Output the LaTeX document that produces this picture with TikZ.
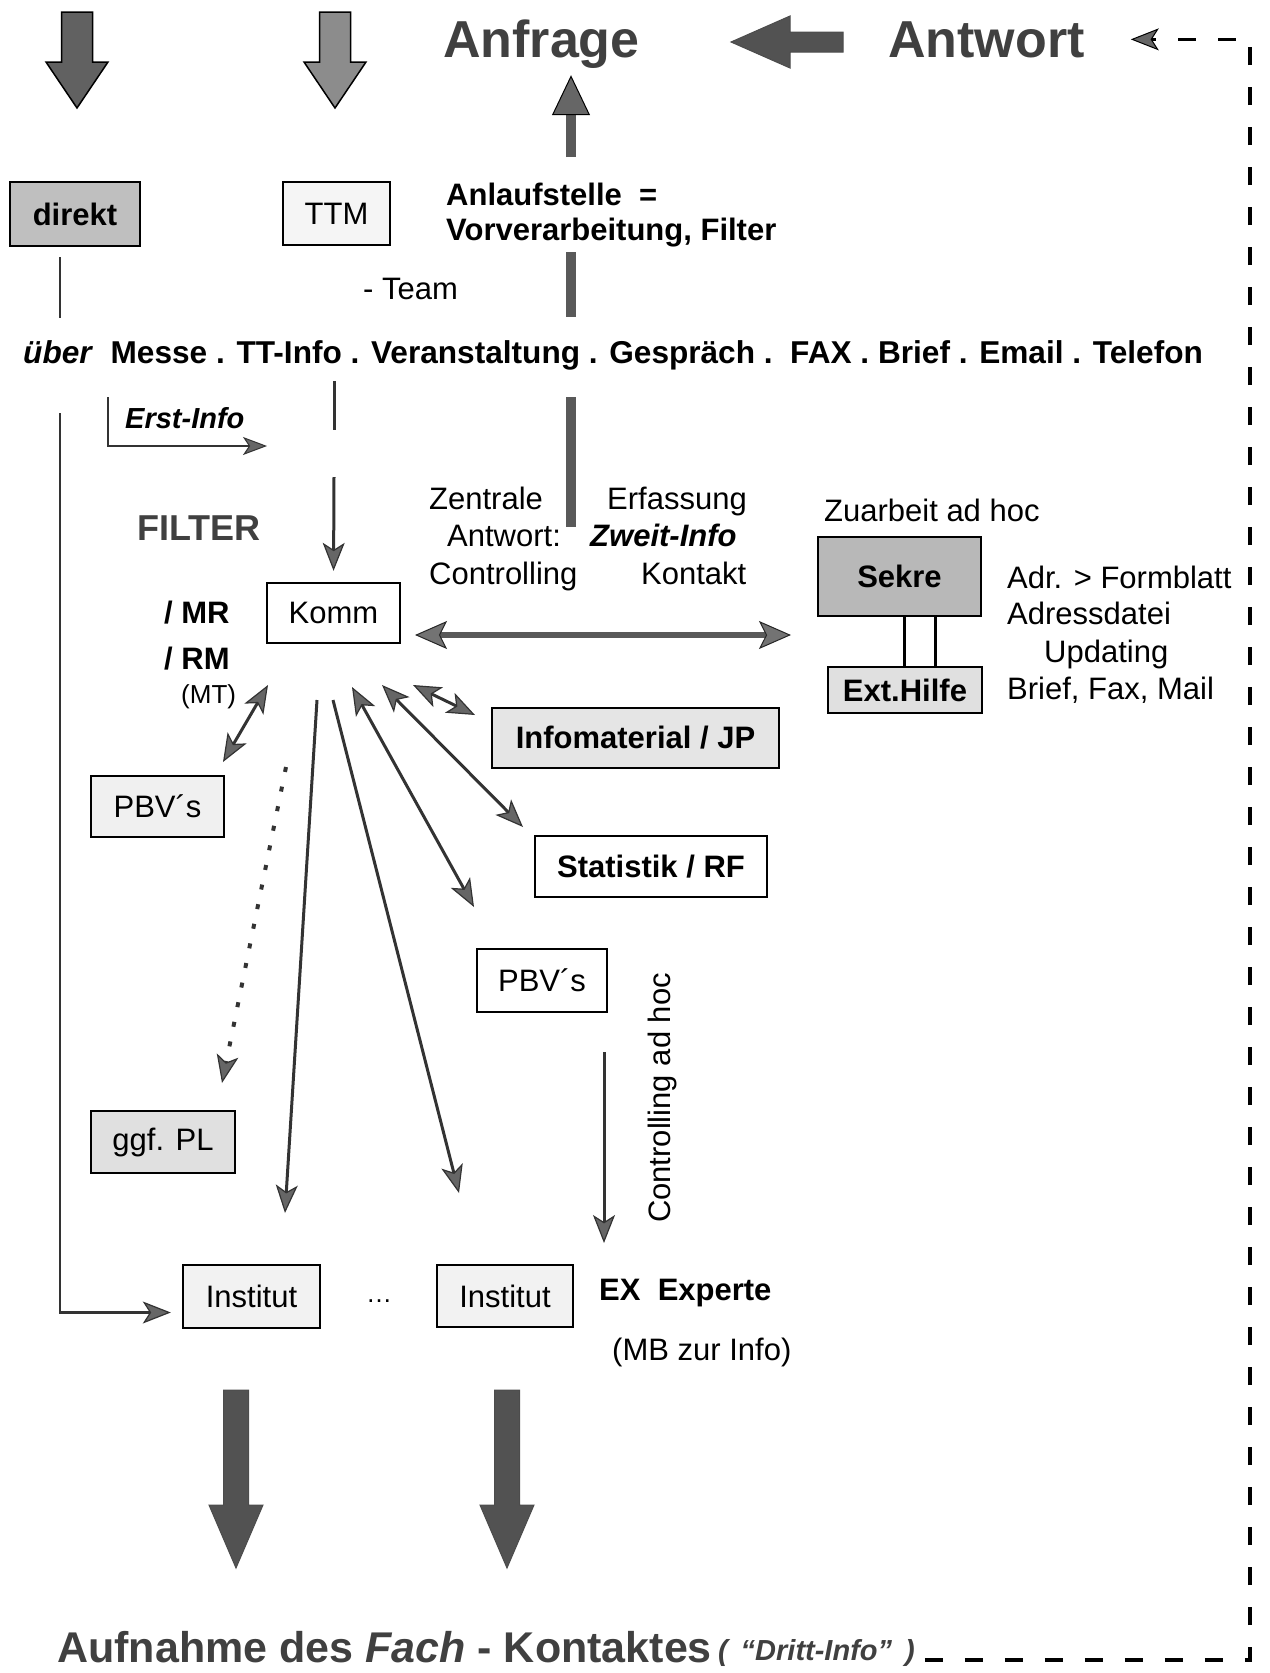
\documentclass[tikz,border=0pt]{standalone}
\usepackage{fontspec}
\setmainfont{Liberation Sans}
\usetikzlibrary{arrows.meta}

\begin{document}
\begin{tikzpicture}[x=1pt, y=-1pt,
    >={Stealth[length=28pt, width=22pt, inset=7pt, fill=black!60, line width=1.2pt]},
    txt/.style={inner sep=0pt, anchor=base west, font=\fontsize{31}{37}\selectfont},
    btxt/.style={txt, font=\fontsize{31}{37}\selectfont\bfseries},
    box/.style={draw, line width=2.4pt, inner sep=0pt, font=\fontsize{31}{37}\selectfont},
    bbox/.style={box, font=\fontsize{31}{37}\selectfont\bfseries},
    link/.style={line width=3pt, draw=black!80},
    bar/.style={line width=10pt, draw=black!65},
    blockarr/.style={draw=black, line width=1.5pt, fill=black!62},
    bigarr/.style={draw=black!70, line width=1pt, fill=black!68}]
      \useasboundingbox (0,0) rectangle (1269,1673);

      % Anfrage / Antwort
      \node (anfrage) at (443,57) [btxt, font=\fontsize{52}{60}\selectfont\bfseries, text=black!75] {Anfrage};
      \node (antwort) at (888,57) [btxt, font=\fontsize{52}{60}\selectfont\bfseries, text=black!75] {Antwort};
      \coordinate (ansA) at (843,42);
      \draw[bigarr] (ansA) ++(0,-10) -- ++(-53,0) -- ++(0,-16) -- ++(-59,26) -- ++(59,26) -- ++(0,-16) -- ++(53,0) -- cycle;

      % Eingang
      \coordinate (inA) at (77,12);
      \coordinate (inB) at (335,12);
      \draw[blockarr] (inA) ++(-15.5,0) -- ++(31,0) -- ++(0,50) -- ++(15.5,0) -- ++(-31,46) -- ++(-31,-46) -- ++(15.5,0) -- cycle;
      \draw[blockarr, fill=black!45] (inB) ++(-15.5,0) -- ++(31,0) -- ++(0,50) -- ++(15.5,0) -- ++(-31,46) -- ++(-31,-46) -- ++(15.5,0) -- cycle;
      \node (direkt) at (75,214) [bbox, fill=black!25, minimum width=130, minimum height=64] {direkt};
      \node (ttm) at (336.5,213.5) [box, fill=black!4, minimum width=107, minimum height=63] {TTM};

      \node (anlauf1) at (446,205) [btxt] {Anlaufstelle\ \ =};
      \node (anlauf2) at (446,240) [btxt] {Vorverarbeitung, Filter};
      \node (team) at (363,299) [txt] {- Team};
      \node (ueber) at (23,363) [btxt, font=\fontsize{31.6}{37}\selectfont\bfseries] {\textit{über}\ \ Messe . TT-Info . Veranstaltung . Gespräch .\ \ FAX . Brief . Email . Telefon};

      % Balken zur Anfrage
      \coordinate (barA) at (571,157);
      \coordinate (barB) at (571,252);
      \coordinate (barC) at (571,317);
      \coordinate (barD) at (571,397);
      \coordinate (barE) at (571,527);
      \draw[bar, -{Triangle[length=40pt, width=38pt, fill=black!60, color=black, line width=1pt]}, shorten >=7pt]
      (barA) -- (barA |- anfrage.south);
      \draw[bar] (barB) -- (barC) (barD) -- (barE);

      \node (filter) at (137,540) [btxt, font=\fontsize{36}{42}\selectfont\bfseries, text=black!75] {FILTER};
      \node (komm) at (333.5,613) [box, fill=white, minimum width=133, minimum height=60] {Komm};
      \node (mr) at (164,623) [btxt] {/ MR};
      \node (rm) at (164,669) [btxt] {/ RM};
      \node (mt) at (181,703) [txt, font=\fontsize{26}{31}\selectfont] {(MT)};

      \node (zentrale) at (429,509) [txt] {Zentrale};
      \node (antw) at (447,546) [txt] {Antwort:};
      \node (controlling) at (429,584) [txt] {Controlling};
      \node (erfassung) at (607,509) [txt] {Erfassung};
      \node (zweit) at (590,546) [btxt, font=\fontsize{31}{37}\selectfont\bfseries\itshape] {Zweit-Info};
      \node (kontakt) at (641,584) [txt] {Kontakt};

      % Sekretariat
      \node (zuarbeit) at (824,521) [txt] {Zuarbeit ad hoc};
      \node (sekre) at (899.5,576.5) [bbox, fill=black!28, minimum width=163, minimum height=79] {Sekre};
      \node (exthilfe) at (905,690) [bbox, fill=black!12, minimum width=154, minimum height=46] {Ext.Hilfe};
      \draw[line width=2.2pt] ([xshift=5pt]sekre.south) -- ([xshift=5pt]sekre.south |- exthilfe.north)
      ([xshift=36pt]sekre.south) -- ([xshift=36pt]sekre.south |- exthilfe.north);
      \node (adr) at (1007,588) [txt] {Adr. > Formblatt};
      \node (adressdatei) at (1007,624) [txt] {Adressdatei};
      \node (updating) at (1044,662) [txt] {Updating};
      \node (brieffax) at (1007,699) [txt] {Brief, Fax, Mail};

      \coordinate (ks1) at (415,635);
      \coordinate (ks2) at (791,635);
      \draw[line width=5.5pt, draw=black!65,
      arrows={Stealth[length=32pt, width=28pt, inset=7pt, fill=black!55, color=black!85, line width=1pt]-Stealth[length=32pt, width=28pt, inset=7pt, fill=black!55, color=black!85, line width=1pt]}]
      (ks1) -- (ks2);

      % Verteilung
      \node (info) at (635.5,738) [bbox, fill=black!10, minimum width=287, minimum height=60] {Infomaterial / JP};
      \node (stat) at (651,866.5) [bbox, fill=white, minimum width=232, minimum height=61] {Statistik / RF};
      \node (pbv1) at (157.5,806.5) [box, fill=black!6, minimum width=133, minimum height=61] {PBV´s};
      \node (pbv2) at (542,980.5) [box, fill=white, minimum width=130, minimum height=63] {PBV´s};
      \node (ggf) at (163,1142) [box, fill=black!12, minimum width=144, minimum height=62] {ggf. PL};
      \node (inst1) at (251.5,1296.5) [box, fill=black!5, minimum width=137, minimum height=63] {Institut};
      \node (inst2) at (505,1296) [box, fill=black!5, minimum width=136, minimum height=62] {Institut};
      \node (dots) at (366,1302) [txt, font=\fontsize{26}{31}\selectfont] {…};

      % direkt
      \coordinate (d1) at (60,257);
      \coordinate (d2) at (60,318);
      \coordinate (d3) at (60,413);
      \draw[link, line width=2.4pt] (d1) -- (d2);
      \draw[link, line width=2.4pt, ->, shorten >=11pt] (d3) |- ([yshift=-16pt]inst1.west);

      % Erst-Info
      \coordinate (e1) at (108,397);
      \coordinate (e2) at (267,446);
      \draw[link, line width=2.4pt, ->, >={Stealth[length=24pt, width=18pt, inset=6pt, fill=black!60, line width=1pt]}]
      (e1) |- (e2);
      \node (erst) at (125,428) [btxt, font=\fontsize{29}{35}\selectfont\bfseries\itshape] {Erst-Info};

      % TT-Info
      \coordinate (t1) at (334,381);
      \coordinate (t2) at (334,430);
      \coordinate (t3) at (334,477);
      \draw[link] (t1) -- (t2);
      \draw[link, ->, shorten >=11pt] (t3) -- (komm.north);

      \coordinate (k1) at (268,685);
      \coordinate (k2) at (317,700);
      \coordinate (k3) at (333,700);
      \coordinate (k4) at (352,687);
      \coordinate (k5) at (382,685);
      \coordinate (k6) at (413,685);
      \coordinate (p1) at (223,762);
      \coordinate (i1) at (285,1213);
      \coordinate (i2) at (459,1193);
      \coordinate (p2) at (474,907);
      \coordinate (s1) at (523,827);
      \coordinate (f1) at (475,715);
      \draw[link, <->] (k1) -- (p1);
      \draw[link, ->] (k2) -- (i1);
      \draw[link, ->] (k3) -- (i2);
      \draw[link, <->] (k4) -- (p2);
      \draw[link, <->] (k5) -- (s1);
      \draw[link, <->] (k6) -- (f1);

      \coordinate (o1) at (286,767);
      \coordinate (o2) at (222,1083);
      \draw[link, line width=4pt, dash pattern=on 5pt off 15pt, ->] (o1) -- (o2);

      % Controlling ad hoc
      \coordinate (c1) at (604,1052);
      \coordinate (c2) at (604,1243);
      \draw[link, ->] (c1) -- (c2);
      \node (ctrl) at (662,1098) [inner sep=0pt, rotate=90, font=\fontsize{31}{37}\selectfont] {Controlling ad hoc};
      \node (ex) at (599,1300) [btxt] {EX\ \ Experte};
      \node (mb) at (612,1360) [txt] {(MB zur Info)};

      % Ausgang
      \coordinate (outA) at (236,1390);
      \coordinate (outB) at (507,1390);
      \draw[bigarr] (outA) ++(-12.5,0) -- ++(25,0) -- ++(0,115) -- ++(14.5,0) -- ++(-27,63) -- ++(-27,-63) -- ++(14.5,0) -- cycle;
      \draw[bigarr] (outB) ++(-12.5,0) -- ++(25,0) -- ++(0,115) -- ++(14.5,0) -- ++(-27,63) -- ++(-27,-63) -- ++(14.5,0) -- cycle;
      \node (aufnahme) at (57,1662) [btxt, font=\fontsize{43}{50}\selectfont\bfseries, text=black!75] {Aufnahme des \textit{Fach} - Kontaktes};
      \node (dritt) at (718,1660) [btxt, font=\fontsize{29}{34}\selectfont\bfseries\itshape, text=black!75] {(\ \,“Dritt-Info”\ \,)};

      % Rueckweg
      \coordinate (retx) at (1250,0);
      \draw[line width=3.2pt, dash pattern=on 18pt off 22pt, shorten >=46pt,
      -{Stealth[length=28pt, width=22pt, inset=7pt, fill=black!60, line width=1pt]}]
      ([xshift=10pt]dritt.base east) -| (retx |- antwort.east) -- (antwort.east);
\end{tikzpicture}
\end{document}
